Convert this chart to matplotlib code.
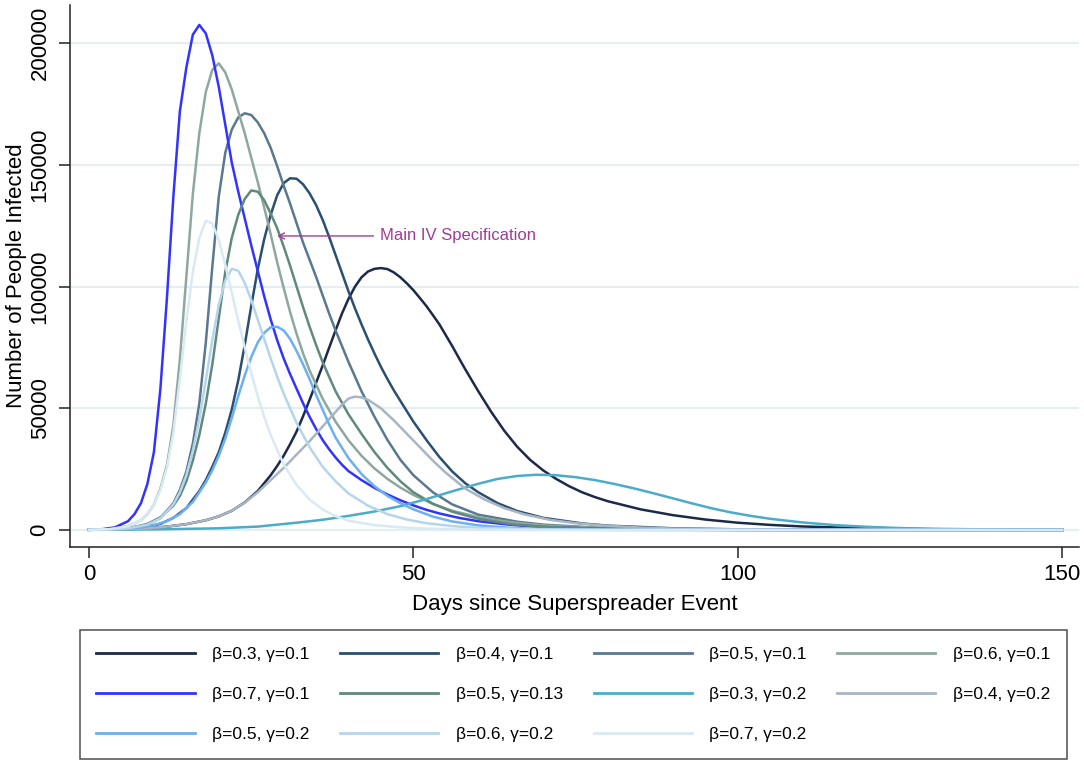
import matplotlib
matplotlib.use("Agg")
import matplotlib.pyplot as plt

plt.rcParams['font.family'] = ['Liberation Sans', 'DejaVu Sans']

# ---------------- data ----------------
labels = ["β=0.3, γ=0.1", "β=0.4, γ=0.1", "β=0.5, γ=0.1", "β=0.6, γ=0.1",
          "β=0.7, γ=0.1", "β=0.5, γ=0.13", "β=0.3, γ=0.2", "β=0.4, γ=0.2",
          "β=0.5, γ=0.2", "β=0.6, γ=0.2", "β=0.7, γ=0.2"]

days_b03_g01 = [0, 3, 6, 9, 12, 15, 18, 20, 22, 24, 26, 28, 29, 30, 31, 32, 33, 34, 35, 36, 37, 38,
                39, 40, 41, 42, 43, 44, 45, 46, 47, 48, 49, 50, 51, 52, 53, 54, 55, 56, 57, 58, 59,
                60, 62, 64, 66, 68, 70, 72, 74, 76, 78, 80, 85, 90, 95, 100, 105, 110, 120, 130,
                140, 150]
inf_b03_g01 = [100, 190, 360, 700, 1400, 2400, 4000, 5600, 7900, 11300, 16000, 22500, 26300, 30500,
               35300, 40500, 46800, 53500, 60500, 67500, 74800, 82000, 89000, 95000, 100000, 103800,
               106200, 107300, 107600, 107200, 105800, 103800, 101300, 98500, 95300, 92000, 88300,
               84500, 80000, 75500, 70700, 66000, 61500, 57000, 48500, 40800, 34200, 28800, 24500,
               21000, 18000, 15500, 13500, 11800, 8500, 6100, 4300, 3000, 2100, 1450, 700, 330, 150,
               70]

days_b04_g01 = [0, 4, 8, 11, 13, 15, 17, 18, 19, 20, 21, 22, 23, 24, 25, 26, 27, 28, 29, 30, 31, 32,
                33, 34, 35, 36, 37, 38, 39, 40, 41, 42, 43, 44, 45, 46, 47, 48, 50, 52, 54, 56, 58,
                60, 63, 66, 70, 76, 80, 90, 100, 120, 150]
inf_b04_g01 = [100, 300, 900, 2500, 5000, 9000, 16000, 20500, 26000, 32000, 40000, 49500, 61500, 76000,
               92000, 107000, 119500, 129500, 137500, 142500, 144500, 144300, 142000, 138300, 133500,
               127500, 120500, 113000, 105500, 98000, 91000, 84500, 78300, 72500, 67000, 62000, 57300,
               53000, 44500, 37000, 30000, 24000, 19200, 15500, 11000, 7800, 5000, 2700, 1800, 700,
               280, 50, 5]

days_b05_g01 = [0, 3, 6, 9, 11, 13, 14, 15, 16, 17, 18, 19, 20, 21, 22, 23, 24, 25, 26, 27, 28, 29,
                30, 31, 32, 33, 34, 35, 36, 37, 38, 40, 42, 44, 46, 48, 50, 53, 56, 60, 66, 70, 80,
                90, 100, 120, 150]
inf_b05_g01 = [60, 200, 650, 2200, 4900, 11000, 16500, 24000, 35500, 52000, 77000, 108000, 137000,
               155000, 164500, 169500, 171200, 170500, 167500, 163000, 157000, 149500, 141500, 134000,
               126000, 118000, 111000, 104000, 96500, 89000, 82000, 69000, 57000, 46500, 37000, 28800,
               22500, 15500, 10500, 6300, 3400, 2200, 700, 220, 70, 10, 0]

days_b06_g01 = [0, 3, 6, 8, 9, 10, 11, 12, 13, 14, 15, 16, 17, 18, 19, 20, 21, 22, 23, 24, 25, 26,
                27, 28, 29, 30, 31, 32, 33, 34, 36, 38, 40, 42, 44, 46, 48, 50, 53, 56, 60, 65, 70,
                80, 90, 100, 150]
inf_b06_g01 = [80, 350, 1500, 4000, 6500, 10500, 17000, 26500, 43000, 70000, 104000, 138000, 163000,
               180000, 189000, 191700, 188000, 181000, 172000, 163000, 153000, 143000, 132500, 121500,
               110000, 99500, 89500, 80500, 72500, 65500, 54000, 44500, 36800, 30500, 25300, 21000,
               17400, 14400, 10700, 7900, 5300, 3200, 1900, 650, 230, 80, 0]

days_b07_g01 = [0, 2, 4, 6, 7, 8, 9, 10, 11, 12, 13, 14, 15, 16, 17, 18, 19, 20, 21, 22, 23, 24, 25,
                26, 27, 28, 29, 30, 31, 32, 33, 34, 35, 36, 37, 38, 39, 40, 42, 44, 46, 48, 50, 52,
                54, 57, 60, 65, 70, 80, 90, 100, 120, 150]
inf_b07_g01 = [100, 330, 1100, 3600, 6500, 11000, 19000, 32000, 58000, 95000, 137000, 172000, 190000,
               203500, 207500, 204000, 195000, 182000, 166500, 151000, 139000, 128000, 117000, 106500,
               96000, 86500, 78000, 70500, 64000, 58000, 52000, 46500, 41500, 37000, 33200, 29800,
               26800, 24200, 20500, 17300, 14600, 12200, 10100, 8300, 6800, 5000, 3600, 2100, 1200,
               420, 140, 45, 5, 0]

days_b05_g013 = [0, 3, 6, 9, 11, 13, 14, 15, 16, 17, 18, 19, 20, 21, 22, 23, 24, 25, 26, 27, 28, 29,
                 30, 31, 32, 33, 34, 35, 36, 38, 40, 42, 44, 46, 48, 50, 53, 56, 60, 65, 70, 80, 90,
                 100, 150]
inf_b05_g013 = [70, 220, 650, 2500, 5200, 10000, 14000, 20000, 28500, 39000, 52000, 68000, 87000,
                106000, 120000, 129500, 136000, 139500, 139000, 135500, 130000, 124000, 116500,
                108500, 100000, 91500, 83500, 76000, 69000, 57000, 47500, 39500, 32000, 25500, 20000,
                15500, 10800, 7500, 4600, 2400, 1300, 400, 120, 40, 0]

days_b03_g02 = [0, 10, 20, 26, 32, 36, 40, 44, 48, 52, 56, 60, 63, 66, 69, 72, 75, 78, 81, 84, 87,
                90, 93, 96, 99, 102, 105, 110, 115, 120, 125, 130, 140, 150]
inf_b03_g02 = [100, 250, 700, 1400, 3000, 4200, 5800, 7600, 9800, 12700, 15900, 19000, 21000, 22200,
               22700, 22500, 21700, 20500, 18900, 17100, 15100, 13000, 10900, 8900, 7200, 5800, 4600,
               3100, 2000, 1300, 800, 500, 200, 80]

days_b04_g02 = [0, 3, 6, 9, 12, 15, 18, 20, 22, 24, 26, 28, 30, 32, 34, 36, 38, 39, 40, 41, 42, 43,
                45, 47, 49, 51, 53, 55, 58, 61, 64, 67, 71, 75, 79, 85, 90, 100, 110, 120, 150]
inf_b04_g02 = [100, 190, 360, 700, 1400, 2400, 4000, 5600, 7900, 11200, 15500, 20500, 25500, 31000,
               36500, 42500, 48500, 51500, 54000, 54800, 54500, 53500, 50000, 45000, 39500, 34000,
               28500, 23500, 17000, 12500, 9000, 6500, 4200, 2800, 1900, 1000, 600, 200, 80, 30, 0]

days_b05_g02 = [0, 4, 8, 10, 12, 14, 16, 18, 19, 20, 21, 22, 23, 24, 25, 26, 27, 28, 29, 30, 31, 32,
                33, 34, 35, 36, 37, 38, 40, 42, 44, 46, 48, 50, 53, 56, 60, 65, 70, 80, 90, 150]
inf_b05_g02 = [100, 330, 1100, 2000, 3600, 6500, 11500, 19500, 24500, 30500, 37500, 46000, 55000,
               63500, 71000, 77000, 81000, 83300, 83500, 82000, 78500, 73500, 68000, 62000, 55500,
               49500, 43500, 38000, 29500, 23000, 18000, 14000, 11000, 8500, 5500, 3500, 1900, 850,
               380, 75, 15, 0]

days_b06_g02 = [0, 3, 6, 9, 11, 13, 14, 15, 16, 17, 18, 19, 20, 21, 22, 23, 24, 25, 26, 27, 28, 29,
                30, 32, 34, 36, 38, 40, 43, 46, 49, 52, 56, 60, 70, 80, 150]
inf_b06_g02 = [60, 200, 650, 2200, 4800, 10500, 15500, 22500, 32500, 45500, 61500, 78000, 92500,
               102500, 107300, 106500, 101500, 94500, 86500, 78500, 70500, 63000, 56000, 44000, 34000,
               26000, 20000, 15000, 10000, 6500, 4300, 2800, 1600, 900, 200, 40, 0]

days_b07_g02 = [0, 3, 6, 8, 9, 10, 11, 12, 13, 14, 15, 16, 17, 18, 19, 20, 21, 22, 23, 24, 25, 26,
                27, 28, 30, 32, 34, 36, 38, 40, 44, 48, 52, 60, 70, 150]
inf_b07_g02 = [80, 350, 1500, 4000, 6500, 10500, 16500, 25500, 40000, 62000, 86000, 106000, 120000,
               127000, 126000, 119000, 109000, 97500, 86000, 75000, 64500, 55000, 46500, 39000, 27000,
               18500, 12500, 8500, 5700, 3800, 2000, 1100, 560, 140, 25, 0]

series_days = [days_b03_g01, days_b04_g01, days_b05_g01, days_b06_g01, days_b07_g01, days_b05_g013,
               days_b03_g02, days_b04_g02, days_b05_g02, days_b06_g02, days_b07_g02]
series_vals = [inf_b03_g01, inf_b04_g01, inf_b05_g01, inf_b06_g01, inf_b07_g01, inf_b05_g013,
               inf_b03_g02, inf_b04_g02, inf_b05_g02, inf_b06_g02, inf_b07_g02]

colors = ['#1c2a4a', '#2a4f70', '#5a7890', '#8ea89e', '#3333ff', '#5f8a7c',
          '#4bacc9', '#a8b5c4', '#6cb0f2', '#b5d5eb', '#d8eaf3']

x_ticks = [0, 50, 100, 150]
y_ticks = [0, 50000, 100000, 150000, 200000]

annot_text = "Main IV Specification"
annot_xy = (29.0, 120800)
annot_text_xy = (44.9, 120800)

# ---------------- figure ----------------
fig = plt.figure(figsize=(10.84, 7.63), dpi=100)
ax = fig.add_axes([0.0646, 0.2831, 0.9308, 0.7104])

for y in y_ticks:
    ax.axhline(y, color='#e6eef1', lw=1.6, zorder=0)

handles = []
for d, v, c, lab in zip(series_days, series_vals, colors, labels):
    h, = ax.plot(d, v, color=c, lw=1.8, label=lab, solid_joinstyle='round')
    handles.append(h)

ax.set_xlim(-2.93, 152.6)
ax.set_ylim(-6980, 215700)
ax.set_xticks(x_ticks)
ax.set_yticks(y_ticks)
ax.set_yticklabels([str(t) for t in y_ticks], rotation=90, va='center')

for s in ['top', 'right']:
    ax.spines[s].set_visible(False)
for s in ['left', 'bottom']:
    ax.spines[s].set_linewidth(1.1)
    ax.spines[s].set_color('#222222')

ax.tick_params(axis='both', labelsize=16, length=8, width=1.1, color='#222222')
ax.tick_params(axis='x', pad=4)
ax.tick_params(axis='y', pad=6)

ax.set_xlabel("Days since Superspreader Event", fontsize=16, labelpad=7)
ax.set_ylabel("Number of People Infected", fontsize=16)
ax.yaxis.set_label_coords(-0.043, 0.5)

purple = '#a03c98'
ax.annotate(annot_text, xy=annot_xy, xytext=annot_text_xy, color=purple, fontsize=12,
            ha='left', va='center',
            arrowprops=dict(arrowstyle='->,head_length=0.35,head_width=0.18', color=purple, lw=1.0,
                            shrinkA=3, shrinkB=0))

# legend: matplotlib fills column-major, so reorder so it reads row-major like the reference
order = [0, 4, 8, 1, 5, 9, 2, 6, 10, 3, 7]
leg = fig.legend([handles[i] for i in order], [labels[i] for i in order], ncol=4,
                 loc='upper left', bbox_to_anchor=(0.0738, 0.0079, 0.9102, 0.1664),
                 mode='expand', fontsize=12.5, frameon=True, fancybox=False,
                 handlelength=5.65, handletextpad=1.0, labelspacing=1.45,
                 borderpad=0.95, borderaxespad=0.0, columnspacing=2.0)
leg.get_frame().set_edgecolor('#222222')
leg.get_frame().set_linewidth(1.1)
for lh in leg.get_lines():
    lh.set_linewidth(2.0)

fig.savefig("out.png", dpi=100)
